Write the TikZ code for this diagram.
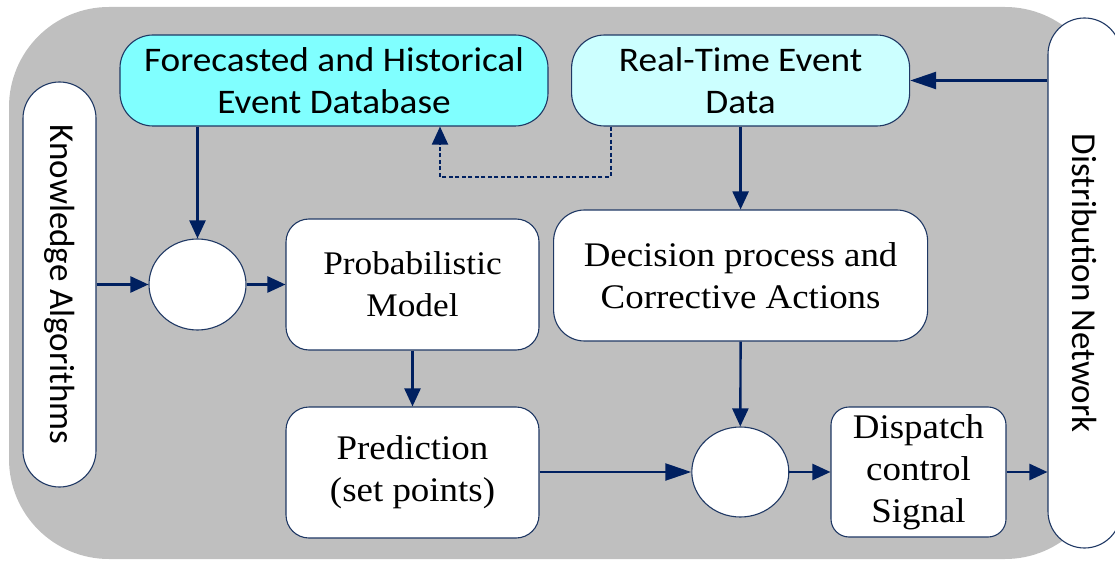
\documentclass[tikz,border=0pt]{standalone}
\usepackage{fontspec}
\setmainfont[FakeStretch=1.07]{Liberation Serif}
\newfontfamily\calfont[FakeStretch=1.08]{Carlito}
\newfontfamily\calvfont{Carlito}
\usetikzlibrary{arrows.meta,shapes.geometric}
\definecolor{navy}{RGB}{0,32,96}
\definecolor{edge}{RGB}{31,56,100}
\definecolor{panel}{RGB}{191,191,191}
\definecolor{dbcyan}{RGB}{128,255,255}
\definecolor{rtcyan}{RGB}{204,255,255}
\begin{document}
\begin{tikzpicture}[x=1pt,y=-1pt,
  box/.style={draw=edge,line width=1.1pt,fill=white,inner sep=0pt,align=center,text=black},
  serif/.style={font=\fontsize{34.5}{42}\selectfont},
  sans/.style={font=\calfont\fontsize{34.5}{42}\selectfont},
  vtext/.style={rotate=-90,inner sep=0pt,font=\calvfont\fontsize{35}{42}\selectfont},
  junction/.style={box,ellipse},
  flow/.style={draw=navy,line width=2.4pt,-{Triangle[length=18pt,width=16pt]}},
  longflow/.style={flow,-{Triangle[length=26pt,width=17pt]}},
  feedback/.style={draw=navy,line width=2pt,dash pattern=on 4pt off 2.5pt,-{Triangle[length=18pt,width=16pt]}}]
\useasboundingbox (0,0) rectangle (1115,561);
\begin{scope}
\clip (0,0) rectangle (1115,561);

% panel behind everything
\fill[panel,rounded corners=100pt] (9,7) rectangle (1105,559);

% side bars
\node[box,rounded corners=36.5pt,minimum width=73pt,minimum height=405pt] (ka) at (59.5,284.5) {};
\node[vtext] (kat) at (ka.center) {Knowledge Algorithms};
\node[box,rounded corners=36.5pt,minimum width=73pt,minimum height=530pt] (dn) at (1084.5,283) {};
\node[vtext] (dnt) at (dn.center) {Distribution Network};

% data sources
\node[box,sans,fill=dbcyan,rounded corners=33pt,minimum width=428pt,minimum height=91pt] (fc) at (334,80.5)
  {Forecasted and Historical\\Event Database};
\node[box,sans,fill=rtcyan,rounded corners=33pt,minimum width=338pt,minimum height=91pt] (rt) at (740.6,80.5)
  {Real-Time Event\\Data};

% processing blocks
\node[box,font=\fontsize{33}{42}\selectfont,rounded corners=23pt,minimum width=253pt,minimum height=131pt] (pm) at (412.5,284.5)
  {Probabilistic\\Model};
\node[box,serif,rounded corners=23pt,minimum width=253pt,minimum height=131pt] (pr) at (412.5,472.5)
  {Prediction\\(set points)};
\node[box,serif,rounded corners=31pt,minimum width=374pt,minimum height=131pt] (dp) at (740.6,275.5)
  {Decision process and\\Corrective Actions};
\node[box,serif,rounded corners=18pt,minimum width=175pt,minimum height=130pt] (ds) at (918.5,472)
  {Dispatch\\control\\Signal};

% summing junctions
\node[junction,minimum width=97pt,minimum height=91pt] (j1) at (197.5,284.5) {};
\node[junction,minimum width=97pt,minimum height=90pt] (j2) at (740.3,472) {};

% connectors
\draw[flow] (fc.south -| j1) -- (j1.north);
\draw[flow] (ka.east |- j1) -- (j1.west);
\draw[flow] (j1.east) -- (pm.west |- j1);
\draw[flow] (pm.south) -- (pr.north);
\draw[longflow] (pr.east |- j2) -- (j2.west);
\draw[flow] (j2.east) -- (ds.west |- j2);
\draw[flow] (ds.east) -- (dn.west |- ds.east);
\draw[longflow] (dn.west |- rt.east) -- (rt.east);
\draw[flow] (rt.south) -- (dp.north);
\draw[flow] (dp.south) -- (j2.north);

% feedback of real-time events into the database
\coordinate (fbr) at (610.5,177);
\coordinate (fbl) at (440,177);
\draw[feedback] (rt.south -| fbr) -- (fbr) -- (fbl) -- (fc.south -| fbl);
\end{scope}
\end{tikzpicture}
\end{document}
